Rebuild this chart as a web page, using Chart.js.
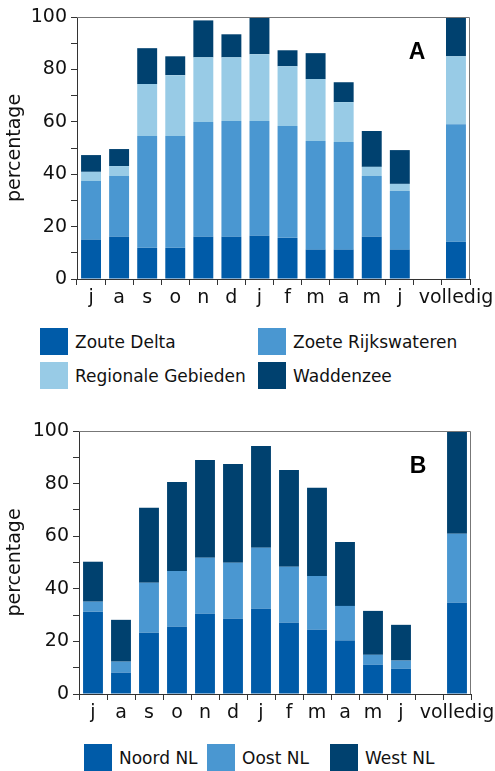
<!DOCTYPE html>
<html>
<head>
<meta charset="utf-8">
<script src="https://cdn.jsdelivr.net/npm/chart.js@4.4.0/dist/chart.umd.min.js"></script>
<style>
  body { margin:0; width:495px; height:771px; background:#fff; position:relative; overflow:hidden; font-family:"DejaVu Sans", sans-serif; }
  .wrap { position:absolute; left:0; width:495px; }
  .legend { position:absolute; font-size:17px; color:#111; }
  .item { display:flex; align-items:center; height:27px; }
  .box { width:28px; height:27px; margin-right:7px; flex:none; }
  #legA { left:40px; top:328px; display:grid; grid-template-columns:218px auto; row-gap:7px; }
  #legB { left:84px; top:744px; display:flex; }
  #legB .item { width:123px; }
</style>
</head>
<body>
<div class="wrap" style="top:0;height:310px"><canvas id="chartA"></canvas></div>
<div id="legA" class="legend"></div>
<div class="wrap" style="top:414px;height:311px"><canvas id="chartB"></canvas></div>
<div id="legB" class="legend"></div>
<script>
// ================= DATA =================
const months = ['j','a','s','o','n','d','j','f','m','a','m','j','','volledig'];
const yTicks = [0,20,40,60,80,100];

// Grafiek A: per watertype
const zouteDelta      = [15.0,16.1,11.9,11.9,16.1,16.1,16.5,15.7,11.2,11.2,16.1,11.2,null,14.2];
const zoeteRijks      = [22.4,23.2,42.7,42.7,43.8,44.2,43.8,42.7,41.5,41.1,23.2,22.4,null,44.9];
const regionaleGeb    = [3.5,3.8,19.8,23.2,24.7,24.3,25.5,22.8,23.6,15.2,3.5,2.7,null,25.9];
const waddenzee       = [6.4,6.5,13.7,7.2,14.1,8.8,14.2,6.1,9.9,7.6,13.7,12.9,null,15.0];

// Grafiek B: per regio
const noordNL = [31.3,8.1,23.3,25.6,30.5,28.6,32.4,27.1,24.4,20.3,11.1,9.6,null,34.7];
const oostNL  = [3.8,4.2,19.0,21.2,21.3,21.3,23.2,21.3,20.5,13.2,3.8,3.1,null,26.2];
const westNL  = [15.2,15.9,28.5,33.8,37.2,37.6,38.7,36.8,33.5,24.3,16.7,13.6,null,39.1];

const C1 = '#005ba8', C2 = '#4a97d1', C3 = '#98cbe6', C4 = '#00416f';

const seriesA = [
  {label:'Zoute Delta', data:zouteDelta, color:C1},
  {label:'Zoete Rijkswateren', data:zoeteRijks, color:C2},
  {label:'Regionale Gebieden', data:regionaleGeb, color:C3},
  {label:'Waddenzee', data:waddenzee, color:C4}
];
const seriesB = [
  {label:'Noord NL', data:noordNL, color:C1},
  {label:'Oost NL', data:oostNL, color:C2},
  {label:'West NL', data:westNL, color:C4}
];

// ================= CHART =================
function frameAndLetter(letter){
  return {
    id:'frame'+letter,
    afterDraw(chart){
      const {ctx, chartArea:a} = chart;
      ctx.save();
      ctx.strokeStyle = '#777';
      ctx.lineWidth = 1;
      ctx.beginPath();
      ctx.moveTo(a.left, a.top+0.5);
      ctx.lineTo(a.right-0.5, a.top+0.5);
      ctx.lineTo(a.right-0.5, a.bottom);
      ctx.stroke();
      ctx.fillStyle = '#000';
      ctx.font = 'bold 23px "Liberation Sans", Arial, sans-serif';
      ctx.textAlign = 'center';
      ctx.textBaseline = 'middle';
      ctx.fillText(letter, a.right-53, a.top+36);
      ctx.restore();
    }
  };
}

function drawChart(id, series, letter, axisWidth, padRight){
  const ctx = document.getElementById(id).getContext('2d');
  return new Chart(ctx,{
    type:'bar',
    data:{
      labels:months,
      datasets:series.map(s=>({label:s.label, data:s.data, backgroundColor:s.color,
        borderWidth:0, barPercentage:0.71, categoryPercentage:1}))
    },
    options:{
      responsive:true, maintainAspectRatio:false, animation:false,
      layout:{padding:{top:17, left:0, right:padRight, bottom:0}},
      plugins:{legend:{display:false}, tooltip:{enabled:false}},
      scales:{
        x:{
          stacked:true,
          grid:{display:true, drawOnChartArea:false, drawTicks:true, tickLength:6, color:'#333', offset:true},
          border:{display:true, color:'#333', width:1},
          ticks:{color:'#111', font:{family:'DejaVu Sans', size:19}, padding:2, maxRotation:0, autoSkip:false},
          afterFit(s){ s.height = 31; s.paddingLeft = 0; s.paddingRight = 0; }
        },
        y:{
          stacked:true, min:0, max:100,
          grid:{display:true, drawOnChartArea:false, drawTicks:true, tickLength:6, color:'#333'},
          border:{display:true, color:'#333', width:1},
          ticks:{stepSize:10, color:'#111', font:{family:'DejaVu Sans', size:19}, padding:4,
            callback:v => yTicks.includes(v) ? v : ''},
          title:{display:true, text:'percentage', color:'#111', font:{family:'DejaVu Sans', size:19}, padding:{top:4, bottom:0}},
          afterFit(s){ s.width = axisWidth; }
        }
      }
    },
    plugins:[frameAndLetter(letter)]
  });
}

function buildLegend(id, series){
  document.getElementById(id).innerHTML = series.map(s =>
    `<div class="item"><div class="box" style="background:${s.color}"></div><span>${s.label}</span></div>`).join('');
}

drawChart('chartA', seriesA, 'A', 77, 25);
drawChart('chartB', seriesB, 'B', 79, 24);
buildLegend('legA', seriesA);
buildLegend('legB', seriesB);
</script>
</body>
</html>
